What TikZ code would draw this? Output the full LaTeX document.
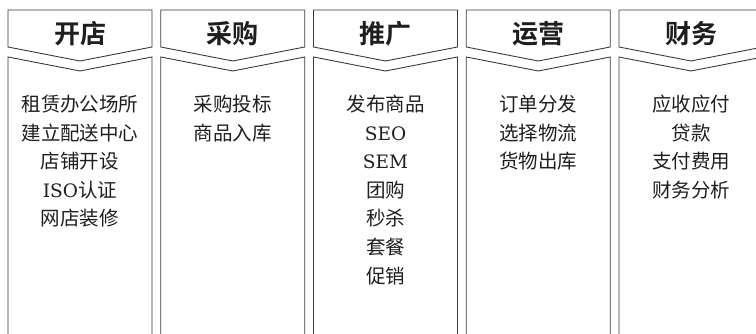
\documentclass[tikz,border=0pt]{standalone}
\usepackage{fontspec}
\newfontfamily\cjk{Noto Sans CJK SC}
\newfontfamily\cjkbold{Noto Sans CJK SC Bold}
\newfontfamily\latserif{DejaVu Serif}
\definecolor{linec}{HTML}{3A3A3A}
\definecolor{textc}{HTML}{1E1E1E}
\tikzset{
  colline/.style={draw=linec, line width=0.9pt, line join=miter},
  headtext/.style={anchor=base, inner sep=0pt, text=textc, font=\fontsize{26}{26}\selectfont\cjkbold},
  itemtext/.style={anchor=base, inner sep=0pt, text=textc, font=\fontsize{19.5}{19.5}\selectfont\cjk},
}
\newcommand\latn[1]{{\fontsize{18.5}{18.5}\selectfont\latserif #1}}
\begin{document}
\begin{tikzpicture}[x=1pt,y=1pt]
\useasboundingbox (0,0) rectangle (756,-334);
\clip (0,0) rectangle (756,-334);
\foreach \i/\head in {0/开店,1/采购,2/推广,3/运营,4/财务}{
  \pgfmathsetmacro\L{8+152.75*\i}
  \pgfmathsetmacro\R{\L+144}
  \pgfmathsetmacro\M{\L+72}
  \draw[colline] (\L,-10) -- (\R,-10) -- (\R,-47) -- (\M,-61) -- (\L,-47) -- cycle;
  \draw[colline] (\L,-345) -- (\L,-57) -- (\M,-71) -- (\R,-57) -- (\R,-345);
  \node[headtext] (h\i) at (\M,-43.5) {\head};
}
\foreach \i/\list in {0/{租赁办公场所,建立配送中心,店铺开设,\latn{ISO}认证,网店装修},
                      1/{采购投标,商品入库},
                      2/{发布商品,\latn{SEO},\latn{SEM},团购,秒杀,套餐,促销},
                      3/{订单分发,选择物流,货物出库},
                      4/{应收应付,贷款,支付费用,财务分析}}{
  \pgfmathsetmacro\M{8+152.75*\i+72}
  \foreach \t [count=\k from 0] in \list {
    \node[itemtext] (t\i-\k) at (\M,{-111.5-28.6*\k}) {\t};
  }
}
\end{tikzpicture}
\end{document}
